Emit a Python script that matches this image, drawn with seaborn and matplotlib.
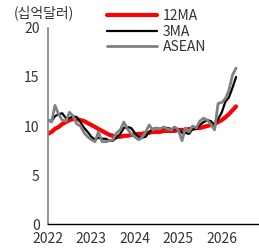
import pandas as pd
import matplotlib
matplotlib.use("Agg")
import matplotlib.pyplot as plt
import matplotlib.dates as mdates
import seaborn as sns

# monthly values, Jan 2022 - May 2026 (USD bn)
months = pd.date_range("2022-01-01", periods=53, freq="MS")

ma12 = [9.2, 9.4, 9.7, 9.9, 10.2, 10.4, 10.6, 10.7, 10.7, 10.6, 10.5, 10.3,
        10.1, 9.9, 9.7, 9.5, 9.3, 9.1, 9.0, 8.9, 8.9, 9.0, 9.0, 9.1,
        9.1, 9.2, 9.2, 9.3, 9.3, 9.4, 9.4, 9.4, 9.5, 9.5, 9.5, 9.5,
        9.6, 9.6, 9.6, 9.7, 9.7, 9.8, 9.8, 9.9, 10.0, 10.1, 10.2, 10.4,
        10.6, 10.9, 11.2, 11.6, 12.0]

ma3 = [10.6, 10.5, 11.0, 11.2, 11.3, 10.8, 10.8, 11.0, 10.9, 10.4, 9.8, 9.4,
       8.9, 8.6, 8.8, 8.7, 8.7, 8.5, 8.5, 8.8, 9.2, 9.8, 9.9, 9.8,
       9.3, 8.9, 8.8, 8.9, 9.4, 9.7, 9.8, 9.7, 9.8, 9.8, 9.7, 9.7,
       9.7, 9.3, 9.3, 9.2, 9.7, 9.7, 10.1, 10.4, 10.6, 10.5, 10.1, 10.7,
       11.4, 12.5, 12.9, 13.9, 15.0]

asean = [10.6, 10.4, 12.1, 11.2, 10.6, 10.5, 11.4, 11.0, 10.2, 10.0, 9.3, 8.9,
         8.6, 8.4, 9.4, 8.4, 8.4, 8.5, 8.6, 9.3, 9.6, 10.4, 9.7, 9.2,
         8.9, 8.6, 8.8, 9.4, 10.1, 9.6, 9.8, 9.7, 9.9, 9.7, 9.6, 9.9,
         9.6, 8.5, 9.8, 9.4, 10.0, 9.8, 10.5, 10.8, 10.6, 10.2, 9.6, 12.3,
         12.4, 12.8, 13.6, 15.2, 15.9]

series_names = ["12MA", "3MA", "ASEAN"]
colors = {"12MA": "#ff0000", "3MA": "#000000", "ASEAN": "#808080"}
widths = {"12MA": 3.0, "3MA": 1.6, "ASEAN": 2.0}

df = pd.DataFrame({"date": months, "12MA": ma12, "3MA": ma3, "ASEAN": asean})
long_df = df.melt(id_vars="date", var_name="series", value_name="value")

sns.set_style("white")
plt.rcParams["font.family"] = ["Noto Sans CJK KR", "DejaVu Sans"]

fig = plt.figure(figsize=(2.59, 2.52), dpi=100)
ax = fig.add_axes([0.185, 0.111, 0.811, 0.778])

for name in series_names:
    sns.lineplot(data=long_df[long_df["series"] == name], x="date", y="value",
                 color=colors[name], linewidth=widths[name], label=name, ax=ax)

ax.set_ylim(0, 20)
ax.set_yticks([0, 5, 10, 15, 20])
ax.set_xlim(pd.Timestamp("2022-01-01"), pd.Timestamp("2026-11-01"))
ax.xaxis.set_major_locator(mdates.YearLocator())
ax.xaxis.set_major_formatter(mdates.DateFormatter("%Y"))
ax.set_xlabel("")
ax.set_ylabel("")

for side in ["top", "right"]:
    ax.spines[side].set_visible(False)
ax.spines["left"].set_color("#808080")
ax.spines["left"].set_linewidth(1.2)
ax.spines["bottom"].set_color("#000000")
ax.spines["bottom"].set_linewidth(1.0)
ax.tick_params(axis="both", which="major", direction="out", length=4,
               labelsize=10, labelcolor="#333333", pad=2)
ax.tick_params(axis="y", color="#808080", width=1)
ax.tick_params(axis="x", color="#000000", width=1)

ax.legend(loc="upper left", bbox_to_anchor=(0.255, 1.125), frameon=False,
          fontsize=10, handlelength=3.6, labelspacing=0.12, handletextpad=0.4,
          borderaxespad=0, labelcolor="#333333")

fig.text(0.052, 0.948, "(십억달러)", fontsize=10, color="#333333", va="center")

fig.savefig("out.png", dpi=100)
